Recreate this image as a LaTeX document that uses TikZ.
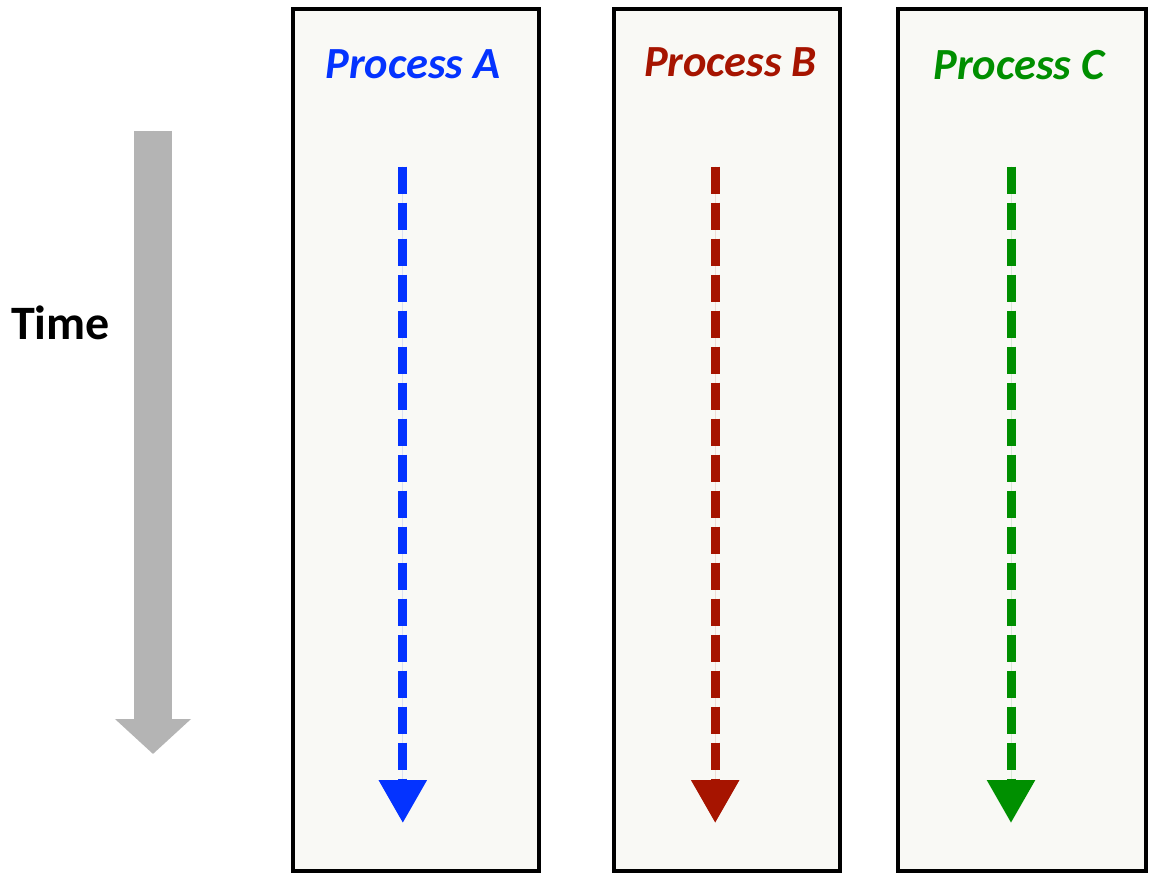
\documentclass[tikz,border=0pt]{standalone}
\usepackage{fontspec}
\setmainfont{Carlito}
\usetikzlibrary{arrows.meta}
\definecolor{procA}{RGB}{4,51,255}
\definecolor{procB}{RGB}{166,20,0}
\definecolor{procC}{RGB}{0,143,0}
\definecolor{panel}{RGB}{249,249,245}
\definecolor{timegray}{RGB}{180,180,180}

\begin{document}
\begin{tikzpicture}[x=1pt,y=-1pt,
  lane/.style={draw=black, line width=3.5pt, fill=panel, rectangle,
               minimum height=862pt, inner sep=0pt},
  title/.style={font=\fontsize{44.5}{50}\selectfont\bfseries\itshape,
                anchor=base, inner sep=0pt},
  flow/.style={line width=9pt, dash pattern=on 27pt off 9pt,
               -{Triangle[length=43pt,width=46pt]}},
  timearrow/.style={draw=timegray, line width=38pt,
               -{Triangle[length=35pt,width=74pt]}},
]
\useasboundingbox (0,0) rectangle (1149,877);
\fill[white] (0,0) rectangle (1149,877);

% process lanes
\node[lane, minimum width=246pt] (laneA) at (416,440) {};
\node[lane, minimum width=226pt] (laneB) at (727,440) {};
\node[lane, minimum width=248pt] (laneC) at (1022,440) {};

% lane titles
\node[title, text=procA] (titleA) at (413,79) {Process A};
\node[title, text=procB] (titleB) at (730.5,77) {Process B};
\node[title, text=procC] (titleC) at (1019,80) {Process C};

% execution flows
\coordinate (startA) at (402.8,166.7);
\coordinate (endA)   at (402.8,823);
\coordinate (startB) at (715.2,166.7);
\coordinate (endB)   at (715.2,823);
\coordinate (startC) at (1011,166.7);
\coordinate (endC)   at (1011,823);
\draw[flow, draw=procA, fill=procA] (startA) -- (endA);
\draw[flow, draw=procB, fill=procB] (startB) -- (endB);
\draw[flow, draw=procC, fill=procC] (startC) -- (endC);

% time axis
\coordinate (timeTop) at (153,131);
\coordinate (timeBot) at (153,754);
\draw[timearrow, fill=timegray] (timeTop) -- (timeBot);
\node[font=\fontsize{48}{54}\selectfont\bfseries, anchor=base, inner sep=0pt]
  (timeLabel) at (60.5,340) {Time};
\end{tikzpicture}
\end{document}
